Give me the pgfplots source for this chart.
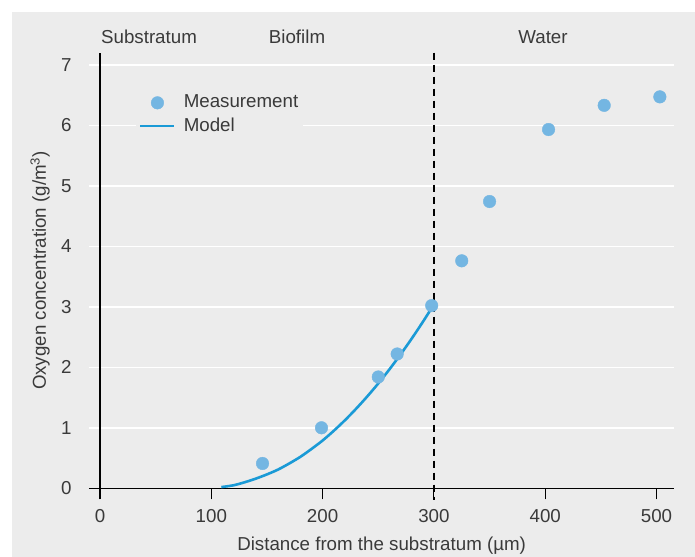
\documentclass[border=0pt]{standalone}
\usepackage{fontspec}
\setmainfont{Liberation Sans}
\usepackage{pgfplots}
\pgfplotsset{compat=1.18}
\definecolor{bg}{HTML}{ECECEC}
\definecolor{pt}{HTML}{74B6E2}
\definecolor{ln}{HTML}{1A9AD6}
\definecolor{txt}{HTML}{3A3A3A}
\newcommand{\fs}{\fontsize{18.8}{22}\selectfont}
\begin{document}
\fs
\begin{tikzpicture}[x=1bp,y=1bp]
\useasboundingbox (0,0) rectangle (695,557);
\fill[bg] (12,0) rectangle (695,545);
\begin{axis}[
  at={(88.9bp,68.7bp)}, anchor=south west,
  scale only axis, width=585.4bp, height=435.6bp,
  xmin=-10, xmax=516, ymin=0, ymax=7.2,
  axis x line*=bottom, axis y line*=left,
  x axis line style={black, line width=1.1bp, -},
  y axis line style={draw=none},
  xtick={0,100,...,500}, ytick={0,1,...,7},
  tick align=outside, major tick length=11bp,
  xtick style={black, line width=1.1bp},
  ytick style={draw=none},
  ymajorgrids, grid style={white, line width=1.5bp},
  /pgf/number format/assume math mode=true,
  tick label style={font=\fs, text=txt},
  xticklabel style={anchor=center, yshift=-17bp},
  yticklabel style={anchor=east},
  xlabel={Distance from the substratum (µm)},
  ylabel={Oxygen concentration (g/m\textsuperscript{3})},
  label style={font=\fs, text=txt},
  xlabel style={at={(axis description cs:0.5,-0.132)}, anchor=center},
  ylabel style={at={(axis description cs:-0.0835,0.5)}, anchor=center},
  clip=false,
  legend image code/.code={\draw[mark repeat=2,mark phase=2,#1] plot coordinates {(0bp,0bp) (17bp,0bp) (34bp,0bp)};},
  legend style={at={(axis cs:32.3,6.57)}, anchor=north west, fill=bg, draw=none,
    font=\fs, text=txt, row sep=3bp, column sep=6bp},
  legend cell align=left,
]
\addplot[pt, only marks, mark=*, mark size=6.3bp, mark options={draw=pt, fill=pt}] coordinates {
(146,0.41) (199,1.00) (250,1.84) (267,2.22) (298,3.02) (325,3.76) (350,4.74) (403,5.93) (453,6.33) (503,6.47)
};
\addlegendentry{Measurement}
\addplot[ln, line width=2.6bp, no marks, smooth] coordinates {
(109,0.02) (120,0.05) (130,0.10) (140,0.16) (150,0.23) (160,0.31) (170,0.41) (180,0.52) (190,0.65) (200,0.79) (210,0.95) (220,1.124) (230,1.313) (240,1.516) (250,1.733) (260,1.965) (270,2.212) (280,2.473) (290,2.749) (298,2.98)
};
\addlegendentry{Model}
\draw[black, line width=1.1bp] (axis cs:0,0) -- (axis cs:0,7.2);
\draw[black, line width=1.2bp, dash pattern=on 7bp off 5bp] (axis cs:300,7.2) -- (axis cs:300,-0.19);
\node[text=txt, font=\fs] at (axis cs:44,7.46) {Substratum};
\node[text=txt, font=\fs] at (axis cs:177,7.46) {Biofilm};
\node[text=txt, font=\fs] at (axis cs:398,7.46) {Water};
\end{axis}
\end{tikzpicture}
\end{document}
